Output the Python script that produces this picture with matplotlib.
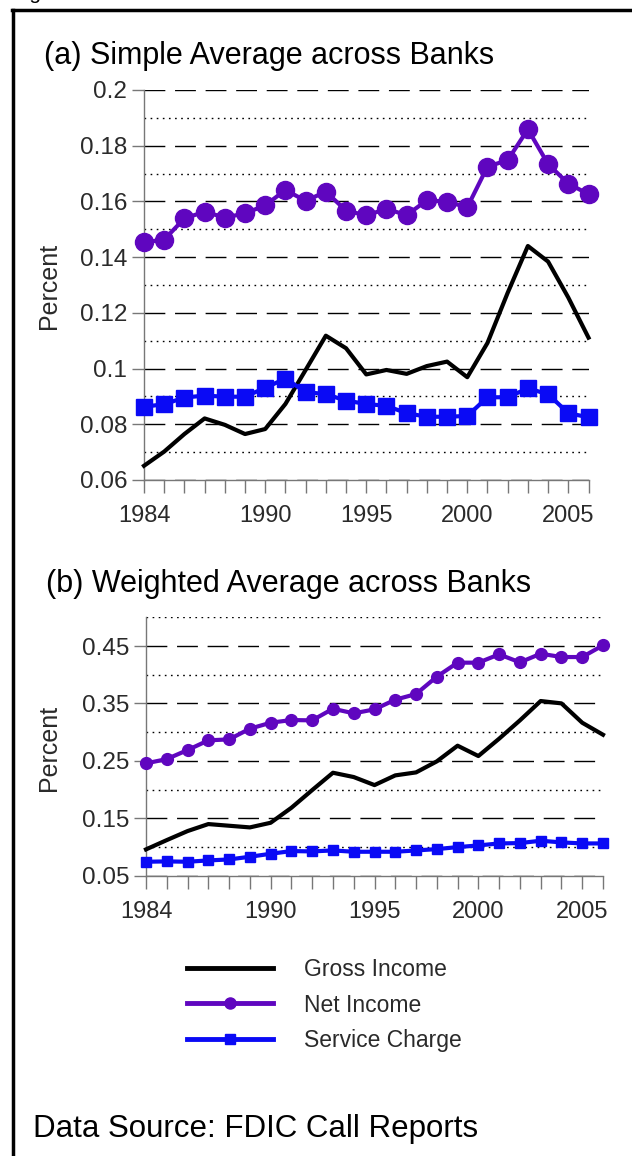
import matplotlib
matplotlib.use("Agg")
import matplotlib.pyplot as plt
from matplotlib.lines import Line2D
from matplotlib.ticker import FixedLocator, MultipleLocator

plt.rcParams['font.family'] = ['Liberation Sans', 'DejaVu Sans']

# data
years = list(range(1984, 2007))

simple_gross = [0.0651, 0.0702, 0.0765, 0.0821, 0.0798, 0.0765, 0.0783, 0.0873,
                0.0995, 0.1118, 0.1073, 0.0979, 0.0995, 0.0981, 0.1009, 0.1025,
                0.0969, 0.1092, 0.1272, 0.1440, 0.1384, 0.1255, 0.1111]
simple_net = [0.1453, 0.1463, 0.1539, 0.1563, 0.1542, 0.1557, 0.1586, 0.1641,
              0.1602, 0.1635, 0.1567, 0.1550, 0.1573, 0.1551, 0.1604, 0.1599,
              0.1579, 0.1725, 0.1748, 0.1859, 0.1734, 0.1664, 0.1626]
simple_service = [0.0863, 0.0872, 0.0896, 0.0903, 0.0899, 0.0899, 0.0931, 0.0964,
                  0.0916, 0.0908, 0.0885, 0.0873, 0.0866, 0.0840, 0.0827, 0.0827,
                  0.0830, 0.0897, 0.0897, 0.0929, 0.0908, 0.0840, 0.0825]

weighted_gross = [0.0958, 0.1120, 0.1277, 0.1399, 0.1370, 0.1341, 0.1422, 0.1683,
                  0.1991, 0.2293, 0.2218, 0.2078, 0.2247, 0.2299, 0.2491, 0.2764,
                  0.2584, 0.2886, 0.3205, 0.3542, 0.3501, 0.3164, 0.2955]
weighted_net = [0.2456, 0.2531, 0.2688, 0.2857, 0.2874, 0.3060, 0.3164, 0.3211,
                0.3205, 0.3408, 0.3327, 0.3397, 0.3565, 0.3664, 0.3966, 0.4210,
                0.4210, 0.4355, 0.4215, 0.4366, 0.4308, 0.4308, 0.4512]
weighted_service = [0.0743, 0.0749, 0.0743, 0.0766, 0.0783, 0.0830, 0.0882, 0.0929,
                    0.0923, 0.0940, 0.0917, 0.0917, 0.0917, 0.0940, 0.0963, 0.0998,
                    0.1027, 0.1062, 0.1068, 0.1109, 0.1080, 0.1062, 0.1062]

year_labels = [1984, 1990, 1995, 2000, 2005]
series_names = ['Gross Income', 'Net Income', 'Service Charge']

PURPLE = '#5f06bf'
BLUE = '#0a0af5'
TXT = '#2a2a2a'
W, H = 632, 1156


def style_axis(ax, major, minor, ylim):
    ax.set_xlim(1984, 2006)
    ax.set_ylim(*ylim)
    ax.xaxis.set_major_locator(FixedLocator(year_labels))
    ax.xaxis.set_minor_locator(MultipleLocator(1))
    ax.yaxis.set_major_locator(FixedLocator(major))
    ax.yaxis.set_minor_locator(FixedLocator(minor))
    for side in ['top', 'right']:
        ax.spines[side].set_visible(False)
    for side in ['left', 'bottom']:
        ax.spines[side].set_color('#777777')
        ax.spines[side].set_linewidth(1.0)
    ax.tick_params(axis='both', which='both', direction='out', color='#777777',
                   length=9, width=1.0, labelcolor=TXT)
    ax.tick_params(axis='y', which='minor', length=0)
    ax.tick_params(axis='x', labelsize=17, pad=9)
    ax.tick_params(axis='y', labelsize=17.5, pad=3)
    for v in major:
        ax.axhline(v, color='black', lw=1.0, dashes=(15, 7), zorder=1)
    for v in minor:
        ax.axhline(v, color='black', lw=1.0, dashes=(1.2, 3.2), zorder=1)
    ax.set_ylabel('Percent', fontsize=18, color=TXT)


def main():
    fig = plt.figure(figsize=(W / 100, H / 100), dpi=100)

    # outer frame (cut off at right and bottom)
    fig.add_artist(Line2D([13 / W, 13 / W], [0, 1 - 10 / H], color='black',
                          lw=2.5, transform=fig.transFigure))
    fig.add_artist(Line2D([12 / W, 1], [1 - 10 / H, 1 - 10 / H], color='black',
                          lw=2.5, transform=fig.transFigure))
    fig.text(12 / W, 1 + 1 / H, 'Figure', fontsize=15, va='baseline',
             ha='left', color='black')

    # (a) simple average
    ax1 = fig.add_axes([144 / W, 1 - 480 / H, 444.5 / W, 390 / H])
    ax1.plot(years, simple_gross, color='black', lw=3, zorder=3, clip_on=False)
    ax1.plot(years, simple_net, color=PURPLE, lw=3, marker='o', ms=13,
             zorder=4, clip_on=False)
    ax1.plot(years, simple_service, color=BLUE, lw=3, marker='s', ms=11,
             zorder=5, clip_on=False)
    style_axis(ax1, [0.06, 0.08, 0.10, 0.12, 0.14, 0.16, 0.18, 0.20],
               [0.07, 0.09, 0.11, 0.13, 0.15, 0.17, 0.19], (0.06, 0.2))
    ax1.set_yticklabels(['0.06', '0.08', '0.1', '0.12', '0.14', '0.16', '0.18', '0.2'])
    ax1.yaxis.set_label_coords(-0.187, 0.497)
    fig.text(44 / W, 1 - 56 / H, '(a) Simple Average across Banks', fontsize=22,
             va='center', ha='left', color='black')

    # (b) weighted average
    ax2 = fig.add_axes([146 / W, 1 - 875.7 / H, 457 / W, 258.4 / H])
    ax2.plot(years, weighted_gross, color='black', lw=3, zorder=3, clip_on=False)
    ax2.plot(years, weighted_net, color=PURPLE, lw=3, marker='o', ms=8.5,
             zorder=4, clip_on=False)
    ax2.plot(years, weighted_service, color=BLUE, lw=3, marker='s', ms=7,
             zorder=5, clip_on=False)
    style_axis(ax2, [0.05, 0.15, 0.25, 0.35, 0.45],
               [0.10, 0.20, 0.30, 0.40, 0.50], (0.05, 0.5))
    ax2.set_yticklabels(['0.05', '0.15', '0.25', '0.35', '0.45'])
    ax2.yaxis.set_label_coords(-0.186, 0.494)
    fig.text(46 / W, 1 - 584 / H, '(b) Weighted Average across Banks', fontsize=22,
             va='center', ha='left', color='black')

    # legend
    handles = [Line2D([], [], color='black', lw=3.5),
               Line2D([], [], color=PURPLE, lw=3.5, marker='o', ms=8),
               Line2D([], [], color=BLUE, lw=3.5, marker='s', ms=7)]
    fig.legend(handles, series_names, loc='center left',
               bbox_to_anchor=(166 / W, 1 - 1005 / H), frameon=False,
               fontsize=16.5, handlelength=3.75, handletextpad=1.35,
               labelspacing=0.56, labelcolor=TXT)

    fig.text(33 / W, 1 - 1129 / H, 'Data Source: FDIC Call Reports',
             fontsize=22.5, va='center', ha='left', color='black')

    fig.savefig('out.png', dpi=100)


if __name__ == '__main__':
    main()
